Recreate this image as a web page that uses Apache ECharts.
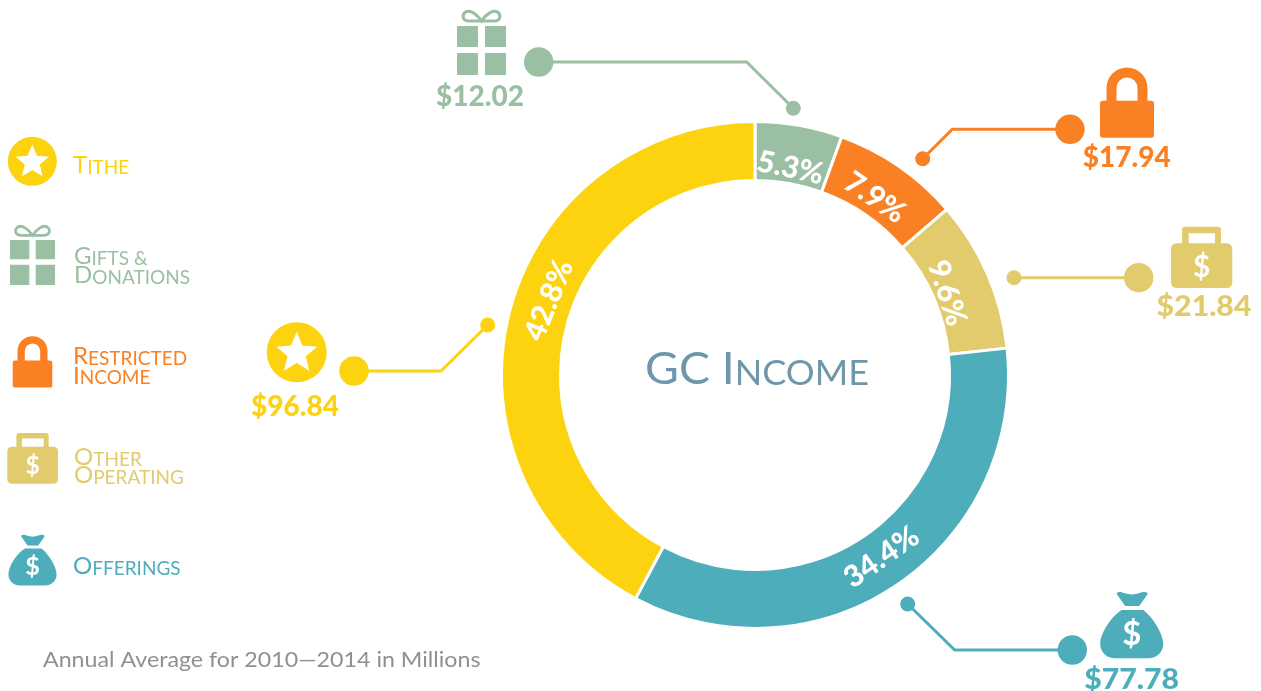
<!DOCTYPE html>
<html>
<head>
<meta charset="utf-8">
<title>GC Income</title>
<script src="https://cdn.jsdelivr.net/npm/echarts@6/dist/echarts.min.js"></script>
<style>
html, body { margin: 0; padding: 0; background: #fff; }
#main { width: 1261px; height: 691px; }
</style>
</head>
<body>
<div id="main"></div>
<script>
// data, clockwise from 12 o'clock
const categories = ['Gifts & Donations', 'Restricted Income', 'Other Operating', 'Offerings', 'Tithe'];
const amountLabels = ['$12.02', '$17.94', '$21.84', '$77.78', '$96.84'];
const shareLabels = ['5.3%', '7.9%', '9.6%', '34.4%', '42.8%'];
// arc sizes as they are drawn in the picture, they run slightly off the printed percentages
const arcShares = [5.56, 8.1, 9.65, 34.5, 42.19];
const colors = ['#9BBFA2', '#F98023', '#E2CB6C', '#4DADBB', '#FCD30E'];
const title = ['GC I', 'NCOME'];
const footnote = 'Annual Average for 2010\u20142014 in Millions';

// label tweaks, same order as categories. the shift runs along the rotated label, not the screen
const labelRotate = [-12, -34, -72, 35, 68];
const labelShift = [[-1, 7], [-2, 3], [2, 8], [3, 5], [22, -4]];
const amountStretch = [1.0, 1.0, 1.08, 1.08, 1.0];

const fontName = 'Lato, sans-serif';
const heavyFont = '"Lato Black", Lato, sans-serif';

echarts.graphic.registerShape('giftBoxes', echarts.graphic.extendPath(
    'M-24.5,-16 L-3.5,-16 L-3.5,5 L-24.5,5 Z M3.5,-16 L24.5,-16 L24.5,5 L3.5,5 Z ' +
    'M-24.5,11 L-3.5,11 L-3.5,33 L-24.5,33 Z M3.5,11 L24.5,11 L24.5,33 L3.5,33 Z'));
echarts.graphic.registerShape('giftBow', echarts.graphic.extendPath(
    'M0,-21 L-13,-21 C-19,-21 -20,-27 -16,-30 C-11,-33 -4,-27 0,-21 C4,-27 11,-33 16,-30 C20,-27 19,-21 13,-21 Z'));
echarts.graphic.registerShape('lock', echarts.graphic.extendPath(
    'M-20.5,-1 L-20.5,-14.5 A20.5,20.5 0 0 1 20.5,-14.5 L20.5,-1 L10.5,-1 L10.5,-14.5 A10.5,10.5 0 0 0 -10.5,-14.5 L-10.5,-1 Z ' +
    'M-24,-1.8 L24,-1.8 Q27,-1.8 27,1.2 L27,32.2 Q27,35.2 24,35.2 L-24,35.2 Q-27,35.2 -27,32.2 L-27,1.2 Q-27,-1.8 -24,-1.8 Z'));
echarts.graphic.registerShape('briefcase', echarts.graphic.extendPath(
    'M-19.7,-13 L-19.7,-27.3 Q-19.7,-30.3 -16.7,-30.3 L16.3,-30.3 Q19.3,-30.3 19.3,-27.3 L19.3,-13 L13.3,-13 L13.3,-23.7 L-13,-23.7 L-13,-13 Z ' +
    'M-24.7,-13.7 L24.6,-13.7 Q30.6,-13.7 30.6,-7.7 L30.6,25 Q30.6,31 24.6,31 L-24.7,31 Q-30.7,31 -30.7,25 L-30.7,-7.7 Q-30.7,-13.7 -24.7,-13.7 Z'));
echarts.graphic.registerShape('moneyBag', echarts.graphic.extendPath(
    'M-15,-31 Q-15,-33.5 -11,-33 Q-5,-31 0,-30.5 Q5,-31 11,-33 Q16,-33.5 16,-31 L7.5,-19 L-6.5,-19 Z ' +
    'M-10,-15 L11.5,-15 C20,-9 31.5,8 31.5,19 C31.5,28 24,33.3 17,33.3 L-17,33.3 C-24,33.3 -31.5,28 -31.5,19 C-31.5,8 -20,-9 -10,-15 Z'));

function starPoints(r) {
    const pts = [];
    for (let i = 0; i < 10; i++) {
        const a = -Math.PI / 2 + i * Math.PI / 5;
        const len = i % 2 ? r * 0.45 : r;
        pts.push([len * Math.cos(a), len * Math.sin(a)]);
    }
    return pts;
}

function dollar(y, size) {
    return {
        type: 'text', x: 0, y: y,
        style: { text: '$', fill: '#fff', font: '700 ' + size + 'px ' + fontName, textAlign: 'center', textVerticalAlign: 'middle' }
    };
}

// each icon is drawn around (0,0) at its callout size
function icon(kind, x, y, scale) {
    let children;
    if (kind === 'star') {
        children = [
            { type: 'circle', shape: { r: 30 }, style: { fill: colors[4] } },
            { type: 'polygon', y: 1, shape: { points: starPoints(21.5) }, style: { fill: '#fff' } }
        ];
    } else if (kind === 'gift') {
        children = [
            { type: 'giftBoxes', style: { fill: colors[0] } },
            { type: 'giftBow', style: { fill: 'none', stroke: colors[0], lineWidth: 3 } }
        ];
    } else if (kind === 'lock') {
        children = [{ type: 'lock', style: { fill: colors[1] } }];
    } else if (kind === 'briefcase') {
        children = [{ type: 'briefcase', style: { fill: colors[2] } }, dollar(10, 30)];
    } else {
        children = [{ type: 'moneyBag', style: { fill: colors[3] } }, dollar(9, 33)];
    }
    return { type: 'group', x: x, y: y, scaleX: scale, scaleY: scale, children: children };
}

function leader(color, bigDot, elbow, smallDot) {
    const pts = elbow ? [bigDot, elbow, smallDot] : [bigDot, smallDot];
    return [
        { type: 'polyline', shape: { points: pts }, style: { fill: 'none', stroke: color, lineWidth: 3 } },
        { type: 'circle', x: bigDot[0], y: bigDot[1], shape: { r: 14.7 }, style: { fill: color } },
        { type: 'circle', x: smallDot[0], y: smallDot[1], shape: { r: 7.5 }, style: { fill: color } }
    ];
}

function amountText(i, x, y) {
    return {
        type: 'text', x: x, y: y, scaleX: amountStretch[i],
        style: { text: amountLabels[i], fill: colors[i], font: '900 28px ' + heavyFont, textAlign: 'center', textVerticalAlign: 'middle' }
    };
}

// small caps text: big first letter + smaller rest, sitting on the given baseline
function legendLine(first, rest, x, baseline, color) {
    return {
        type: 'text', x: x, y: baseline + 4.5,
        style: {
            text: '{b|' + first + '}{s|' + rest + '}', fill: color, textVerticalAlign: 'bottom',
            rich: {
                b: { fontSize: 24, fontFamily: fontName, fill: color, verticalAlign: 'bottom', lineHeight: 24 },
                s: { fontSize: 19, fontFamily: fontName, fill: color, verticalAlign: 'bottom', lineHeight: 24 }
            }
        }
    };
}

const graphics = [].concat(
    leader(colors[0], [538.7, 62], [746.7, 62], [793.3, 108.3]),
    leader(colors[1], [1070, 129.3], [952.3, 129.3], [922.7, 158.7]),
    leader(colors[2], [1138.7, 277.7], null, [1014, 277.7]),
    leader(colors[3], [1072.3, 650], [954.7, 650], [907.7, 604]),
    leader(colors[4], [354, 371], [441, 371], [487.7, 325]),
    [
        icon('gift', 481.5, 42, 1), icon('lock', 1127, 102.5, 1), icon('briefcase', 1201.7, 257, 1),
        icon('bag', 1131.7, 625, 1), icon('star', 296.7, 352.3, 1),
        icon('star', 32.3, 161.3, 0.817), icon('gift', 32.5, 254.6, 0.92), icon('lock', 32.5, 361.8, 0.733),
        icon('briefcase', 32.7, 458, 0.827), icon('bag', 32.5, 560, 0.765),
        amountText(0, 480, 96.5), amountText(1, 1126.7, 157.7), amountText(2, 1204, 306.7),
        amountText(3, 1131.7, 680), amountText(4, 295, 406.7),
        legendLine('T', 'ITHE', 73, 173, colors[4]),
        legendLine('G', 'IFTS &', 74, 264, colors[0]),
        legendLine('D', 'ONATIONS', 74, 283, colors[0]),
        legendLine('R', 'ESTRICTED', 73, 364, colors[1]),
        legendLine('I', 'NCOME', 73, 383.3, colors[1]),
        legendLine('O', 'THER', 74, 465, colors[2]),
        legendLine('O', 'PERATING', 74, 483, colors[2]),
        legendLine('O', 'FFERINGS', 73, 574, colors[3]),
        {
            type: 'text', x: 757, y: 369.5, scaleX: 1.03,
            style: {
                text: '{b|' + title[0] + '}{s|' + title[1] + '}', textAlign: 'center', textVerticalAlign: 'middle',
                rich: {
                    b: { fontSize: 45, fontFamily: fontName, fill: '#6E97AC', verticalAlign: 'bottom', lineHeight: 44 },
                    s: { fontSize: 35, fontFamily: fontName, fill: '#6E97AC', verticalAlign: 'bottom', lineHeight: 44 }
                }
            }
        },
        {
            type: 'text', x: 43, y: 660, scaleX: 1.055,
            style: { text: footnote, fill: '#909090', font: '400 22px ' + fontName, textVerticalAlign: 'middle' }
        }
    ]
);

const chart = echarts.init(document.getElementById('main'));
chart.setOption({
    animation: false,
    backgroundColor: '#fff',
    series: [
        {
            type: 'pie',
            center: [755, 375],
            radius: [194.5, 253.5],
            startAngle: 90,
            silent: true,
            label: { show: false },
            labelLine: { show: false },
            itemStyle: { borderColor: '#fff', borderWidth: 3 },
            data: categories.map(function (name, i) {
                return { name: name, value: arcShares[i], itemStyle: { color: colors[i] } };
            })
        },
        {
            // percent labels sit a bit inside the middle of the ring
            type: 'pie',
            center: [755, 375],
            radius: [190, 238],
            startAngle: 90,
            silent: true,
            labelLine: { show: false },
            itemStyle: { color: 'transparent' },
            label: {
                position: 'inside', color: '#fff', fontFamily: heavyFont, fontWeight: 900, fontSize: 30
            },
            labelLayout: function (params) {
                return { dx: labelShift[params.dataIndex][0], dy: labelShift[params.dataIndex][1] };
            },
            data: categories.map(function (name, i) {
                return {
                    name: name, value: arcShares[i],
                    label: { formatter: shareLabels[i], rotate: labelRotate[i] }
                };
            })
        }
    ],
    graphic: { elements: graphics }
});
</script>
</body>
</html>
